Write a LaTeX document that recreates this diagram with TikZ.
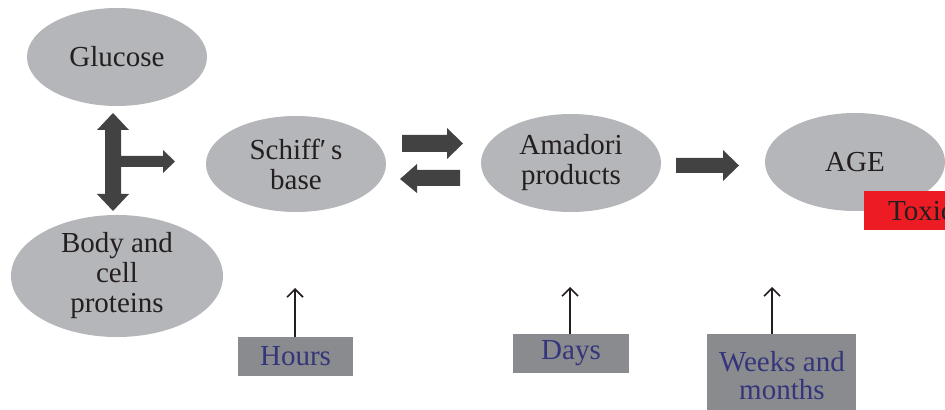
\documentclass[tikz,border=0pt]{standalone}
\usepackage{fontspec}
\setmainfont{Liberation Serif}
\usetikzlibrary{arrows.meta,calc,shapes.geometric}
\definecolor{ellgray}{HTML}{B5B6B9}
\definecolor{boxgray}{HTML}{8A8B8E}
\definecolor{arrdark}{HTML}{424242}
\definecolor{navy}{HTML}{34357A}
\definecolor{toxred}{HTML}{ED1C24}
\definecolor{txt}{HTML}{231F20}
\tikzset{
  x=0.5pt,y=-0.5pt,
  blob/.style={ellipse,fill=ellgray,draw=none,inner sep=0pt,align=center,text=txt,
    font=\fontsize{14.5}{15}\selectfont},
  timebox/.style={rectangle,fill=boxgray,draw=none,inner sep=0pt,align=center,text=navy,
    font=\fontsize{14.5}{14}\selectfont},
  fatarrow/.style={fill=arrdark,draw=none},
  thinarrow/.style={draw=txt,line width=0.8pt,-{Straight Barb[length=4pt,width=8pt]}}
}
\begin{document}
\begin{tikzpicture}
\useasboundingbox (0,0) rectangle (945,410);
\clip (0,0) rectangle (945,410);
% ellipses
\node[blob,minimum width=90pt,minimum height=49pt] (glucose) at (117,57) {Glucose};
\node[blob,minimum width=106pt,minimum height=54pt] (body) at (117,276) {Body and\\cell\\proteins};
\node[blob,minimum width=90pt,minimum height=48pt] (schiff) at (296,164) {Schiff′\,s\\base};
\node[blob,minimum width=90pt,minimum height=49pt] (amadori) at (571,163) {Amadori\\products};
\node[blob,minimum width=90pt,minimum height=49pt] (age) at (855,162) {AGE};
% toxic label
\node[rectangle,fill=toxred,inner sep=0pt,minimum width=50pt,minimum height=19.5pt,
  anchor=north west,text=txt,font=\fontsize{14.5}{14.5}\selectfont] (toxic) at (864,191)
  {\hspace*{6.5pt}Toxic\hfill};
% time boxes
\node[timebox,minimum width=57.5pt,minimum height=19.5pt] (hours) at (295.5,356.5) {Hours};
\node[timebox,minimum width=58pt,minimum height=19.5pt] (days) at (571,353.5) {Days};
\node[timebox,minimum width=74.5pt,minimum height=41pt,anchor=north west] (weeks) at (707,334)
  {Weeks and\\months};
% thin arrows
\coordinate (hoursT) at (295,288);
\coordinate (daysT) at (570,287);
\coordinate (weeksB) at (772,334);
\coordinate (weeksT) at (772,287);
\draw[thinarrow] (hours.north -| hoursT) -- (hoursT);
\draw[thinarrow] (days.north -| daysT) -- (daysT);
\draw[thinarrow] (weeksB) -- (weeksT);
% T-shaped double arrow between glucose and body proteins, branch to Schiff's base
\fill[fatarrow] (113,113) -- (129,130) -- (121,130) -- (121,156) -- (163,156) -- (163,150)
  -- (175,161.5) -- (163,173) -- (163,167) -- (121,167) -- (121,194) -- (129,194)
  -- (113,211) -- (97,194) -- (105,194) -- (105,130) -- (97,130) -- cycle;
% Schiff <-> Amadori
\fill[fatarrow] (402,135) -- (447,135) -- (447,128) -- (463,143.5) -- (447,159) -- (447,152)
  -- (402,152) -- cycle;
\fill[fatarrow] (460,170) -- (417,170) -- (417,164) -- (400,179) -- (417,193) -- (417,186)
  -- (460,186) -- cycle;
% Amadori -> AGE
\fill[fatarrow] (676,158) -- (723,158) -- (723,150) -- (739,165.5) -- (723,181) -- (723,173)
  -- (676,173) -- cycle;
\end{tikzpicture}
\end{document}
